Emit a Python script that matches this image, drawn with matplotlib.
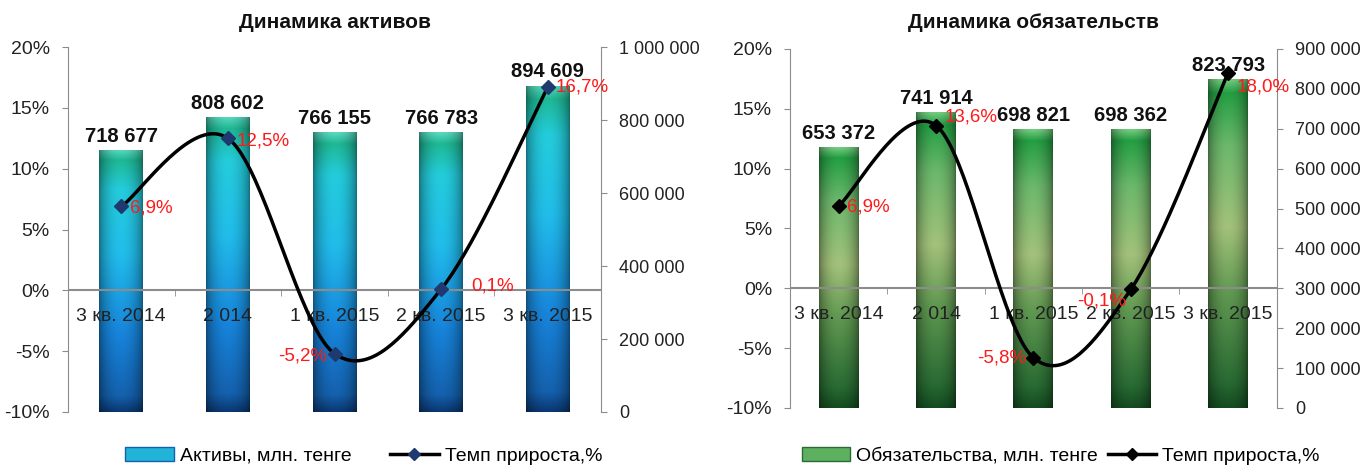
import numpy as np
import matplotlib
matplotlib.use("Agg")
import matplotlib.pyplot as plt
from matplotlib.lines import Line2D
from matplotlib.patches import Patch

plt.rcParams['font.family'] = ['Liberation Sans', 'DejaVu Sans']

# data
quarters = ['3 кв. 2014', '2 014', '1 кв. 2015', '2 кв. 2015', '3 кв. 2015']
assets = [718677, 808602, 766155, 766783, 894609]
assets_growth = [6.9, 12.5, -5.2, 0.1, 16.7]
liab = [653372, 741914, 698821, 698362, 823793]
liab_growth = [6.9, 13.6, -5.8, -0.1, 18.0]

# label offsets in points (style only)
assets_off = [(6, -1, 'left'), (6, -2, 'left'), (-5, -2, 'right'), (22, 2, 'left'), (6, 0, 'left')]
liab_off = [(6, -1, 'left'), (6, 6, 'left'), (-5, 0, 'right'), (-3, -8, 'right'), (6, -10, 'left')]

blue_stops = [(0.0, (0.04, 0.22, 0.45)), (0.06, (0.08, 0.38, 0.68)), (0.3, (0.09, 0.52, 0.86)),
              (0.6, (0.13, 0.74, 0.92)), (0.85, (0.14, 0.80, 0.86)), (0.96, (0.12, 0.72, 0.58)),
              (1.0, (0.35, 0.85, 0.75))]
green_stops = [(0.0, (0.08, 0.30, 0.13)), (0.08, (0.16, 0.42, 0.2)), (0.35, (0.38, 0.60, 0.32)),
               (0.55, (0.64, 0.76, 0.48)), (0.8, (0.42, 0.72, 0.42)), (0.96, (0.14, 0.62, 0.26)),
               (1.0, (0.45, 0.80, 0.50))]


def smooth(xs, ys, n=40):
    # Excel-like bezier smoothing through the points
    P = np.column_stack([np.array(xs, float), np.array(ys, float)])
    out = []
    for i in range(len(P) - 1):
        p0 = P[i - 1] if i > 0 else P[i]
        p1, p2 = P[i], P[i + 1]
        p3 = P[i + 2] if i + 2 < len(P) else P[i + 1]
        c1 = p1 + (p2 - p0) / 6
        c2 = p2 - (p3 - p1) / 6
        t = np.linspace(0, 1, n)[:, None]
        seg = (1 - t) ** 3 * p1 + 3 * (1 - t) ** 2 * t * c1 + 3 * (1 - t) * t ** 2 * c2 + t ** 3 * p2
        out.append(seg if i == 0 else seg[1:])
    out = np.vstack(out)
    return out[:, 0], out[:, 1]


def gradient_img(stops):
    v = np.linspace(0, 1, 200)
    u = np.linspace(0, 1, 60)
    cols = np.zeros((200, 3))
    pos = [s[0] for s in stops]
    for c in range(3):
        cols[:, c] = np.interp(v, pos, [s[1][c] for s in stops])
    shade = 0.55 + 0.45 * np.sin(np.pi * u) ** 0.6
    img = cols[:, None, :] * shade[None, :, None]
    return np.clip(img, 0, 1)


def panel(rect, title, values, growth, offs, ymax, ystep, stops, base, marker_col):
    ax = fig.add_axes(rect)
    x = np.arange(len(values))
    bars = ax.bar(x, values, width=0.41, color=base, zorder=1)
    img = gradient_img(stops)
    for b in bars:
        im = ax.imshow(img, extent=(b.get_x(), b.get_x() + b.get_width(), 0, b.get_height()),
                       origin='lower', aspect='auto', zorder=2)
        im.set_clip_path(b)
    ax.set_xlim(-0.5, len(values) - 0.5)
    ax.set_ylim(0, ymax)
    ticks = np.arange(0, ymax + 1, ystep)
    ax.set_yticks(ticks)
    ax.set_yticklabels([f"{int(t):,}".replace(",", " ") for t in ticks])
    for i, v in enumerate(values):
        ax.annotate(f"{v:,}".replace(",", " "), (x[i], v), xytext=(0, 3), textcoords='offset points',
                    ha='center', va='bottom', fontsize=14.5, fontweight='bold', color='#111111', zorder=5)
    ax.xaxis.set_visible(False)

    ax2 = ax.twinx()
    ax.yaxis.tick_right()
    ax2.yaxis.tick_left()
    for s in ['top', 'bottom', 'left']:
        ax.spines[s].set_visible(False)
    ax.spines['right'].set_color('#8c8c8c')
    ax.tick_params(axis='y', colors='#8c8c8c', labelcolor='#222222', labelsize=13, length=4, pad=9)

    ax2.set_ylim(-10, 20)
    ax2.set_yticks(range(-10, 21, 5))
    ax2.set_yticklabels([f"{t}%" for t in range(-10, 21, 5)])
    ax2.tick_params(axis='y', colors='#8c8c8c', labelcolor='#222222', labelsize=14, length=4, pad=9)
    for s in ['top', 'bottom', 'right']:
        ax2.spines[s].set_visible(False)
    ax2.spines['left'].set_color('#8c8c8c')
    ax2.axhline(0, color='#8c8c8c', lw=1.5, zorder=1)
    ax2.xaxis.set_visible(True)
    ax2.set_xticks(x)
    ax2.set_xticklabels(quarters)
    ax2.set_xticks(np.arange(0.5, len(values) - 1, 1), minor=True)
    ax2.spines['bottom'].set_position(('data', 0))
    ax2.tick_params(axis='x', which='major', length=0, pad=13, labelsize=14, labelcolor='#222222')
    ax2.tick_params(axis='x', which='minor', length=4, color='#8c8c8c')
    sx, sy = smooth(x, growth)
    ax2.plot(sx, sy, color='black', lw=2.5, zorder=3, solid_capstyle='round')
    ax2.plot(x, growth, ls='none', marker='D', ms=7, color=marker_col, mec=marker_col, zorder=4)
    for i, g in enumerate(growth):
        dx, dy, ha = offs[i]
        ax2.annotate(f"{g:.1f}%".replace(".", ","), (x[i], g), xytext=(dx, dy), textcoords='offset points',
                     ha=ha, va='center', fontsize=13.5, color='#ff1a1a', zorder=5)
    ax2.set_xlim(-0.5, len(values) - 0.5)

    cx = rect[0] + rect[2] / 2
    fig.text(cx, 0.952, title, ha='center', va='center', fontsize=15, fontweight='bold', color='#111111')
    handles = [Patch(facecolor=base, edgecolor=stops[1][1]),
               Line2D([], [], color='black', lw=2.5, marker='D', ms=6, mfc=marker_col, mec=marker_col)]
    return handles


fig = plt.figure(figsize=(13.67, 4.66), dpi=100)

h1 = panel([0.0497, 0.1159, 0.39, 0.783], 'Динамика активов', assets, assets_growth, assets_off,
           1000000, 200000, blue_stops, '#22b3d9', '#1f3a6e')
fig.legend(h1, ['Активы, млн. тенге', 'Темп прироста,%'], loc='center', bbox_to_anchor=(0.266, 0.022),
           ncol=2, frameon=False, fontsize=14, handlelength=2.5, columnspacing=2.0, handletextpad=0.3)

h2 = panel([0.578, 0.1245, 0.356, 0.7705], 'Динамика обязательств', liab, liab_growth, liab_off,
           900000, 100000, green_stops, '#5cb060', 'black')
fig.legend(h2, ['Обязательства, млн. тенге', 'Темп прироста,%'], loc='center', bbox_to_anchor=(0.776, 0.022),
           ncol=2, frameon=False, fontsize=14, handlelength=2.5, columnspacing=0.5, handletextpad=0.3)

fig.savefig('out.png', dpi=100)
